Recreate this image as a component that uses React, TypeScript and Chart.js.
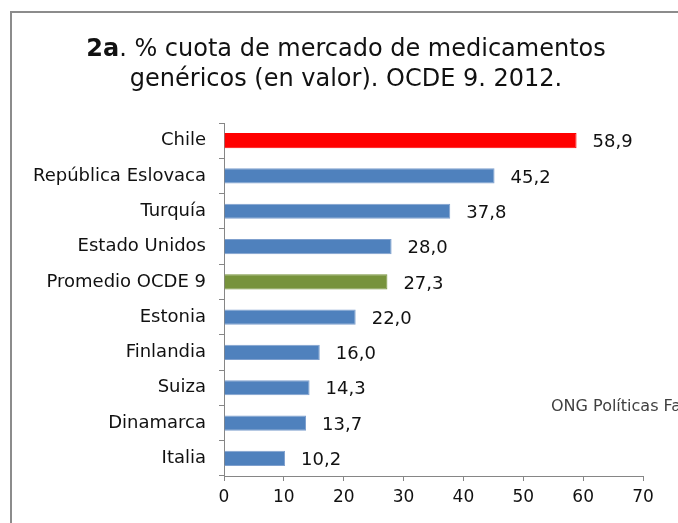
import React, { useEffect, useRef } from "react";
import { Chart, registerables } from "chart.js";

Chart.register(...registerables);

const categories = [
  "Chile",
  "República Eslovaca",
  "Turquía",
  "Estado Unidos",
  "Promedio OCDE 9",
  "Estonia",
  "Finlandia",
  "Suiza",
  "Dinamarca",
  "Italia",
];
const values = [58.9, 45.2, 37.8, 28.0, 27.3, 22.0, 16.0, 14.3, 13.7, 10.2];
const barColors = [
  "#FF0000",
  "#4F81BD",
  "#4F81BD",
  "#4F81BD",
  "#77933C",
  "#4F81BD",
  "#4F81BD",
  "#4F81BD",
  "#4F81BD",
  "#4F81BD",
];
const borderColors = [
  "#FF0000",
  "#7FA0CE",
  "#7FA0CE",
  "#7FA0CE",
  "#77933C",
  "#7FA0CE",
  "#7FA0CE",
  "#7FA0CE",
  "#7FA0CE",
  "#7FA0CE",
];
const titleBold = "2a";
const titleRest1 = ". % cuota de mercado de medicamentos";
const titleLine2 = "genéricos (en valor). OCDE 9. 2012.";
const sourceNote = "ONG Políticas Fa";
const xMin = 0;
const xMax = 70;
const xStep = 10;

const FONT = "'DejaVu Sans', sans-serif";
const AXIS_GRAY = "#868686";

const framePlugin = {
  id: "frame",
  beforeDraw(chart: any) {
    const ctx = chart.ctx;
    ctx.save();
    ctx.fillStyle = "#ffffff";
    ctx.fillRect(0, 0, chart.width, chart.height);
    ctx.strokeStyle = "#8c8c8c";
    ctx.lineWidth = 2;
    ctx.beginPath();
    ctx.moveTo(11, chart.height + 5);
    ctx.lineTo(11, 12);
    ctx.lineTo(chart.width + 5, 12);
    ctx.stroke();
    ctx.restore();
  },
};

const titlePlugin = {
  id: "customTitle",
  afterDraw(chart: any) {
    const ctx = chart.ctx;
    const cx = 346;
    ctx.save();
    ctx.fillStyle = "#111111";
    ctx.textBaseline = "alphabetic";
    const boldFont = `bold 24px ${FONT}`;
    const normFont = `24px ${FONT}`;
    ctx.font = boldFont;
    const wb = ctx.measureText(titleBold).width;
    ctx.font = normFont;
    const wr = ctx.measureText(titleRest1).width;
    const x = cx - (wb + wr) / 2;
    ctx.textAlign = "left";
    ctx.font = boldFont;
    ctx.fillText(titleBold, x, 56);
    ctx.font = normFont;
    ctx.fillText(titleRest1, x + wb, 56);
    ctx.textAlign = "center";
    ctx.fillText(titleLine2, cx, 86);
    // source note
    ctx.font = `16px ${FONT}`;
    ctx.fillStyle = "#404040";
    ctx.textAlign = "left";
    ctx.textBaseline = "middle";
    ctx.fillText(sourceNote, 551, 407);
    ctx.restore();
  },
};

const labelPlugin = {
  id: "valueLabels",
  afterDatasetsDraw(chart: any) {
    const ctx = chart.ctx;
    const meta = chart.getDatasetMeta(0);
    ctx.save();
    ctx.font = `18px ${FONT}`;
    ctx.fillStyle = "#111111";
    ctx.textAlign = "left";
    ctx.textBaseline = "middle";
    meta.data.forEach((bar: any, i: number) => {
      const v = values[i];
      const txt = v.toFixed(1).replace(".", ",");
      ctx.fillText(txt, bar.x + 16, bar.y + 2);
    });
    ctx.restore();
  },
};

export default function App() {
  const ref = useRef<HTMLCanvasElement | null>(null);
  useEffect(() => {
    if (!ref.current) return;
    const chart = new Chart(ref.current, {
      type: "bar",
      data: {
        labels: categories,
        datasets: [
          {
            data: values,
            backgroundColor: barColors,
            borderColor: borderColors,
            borderWidth: 1,
            categoryPercentage: 1,
            barPercentage: 0.43,
          },
        ],
      },
      options: {
        indexAxis: "y",
        animation: false,
        responsive: false,
        devicePixelRatio: 1,
        layout: { padding: { top: 123, right: 35, left: 0, bottom: 0 } },
        plugins: {
          legend: { display: false },
          title: { display: false },
          tooltip: { enabled: false },
        },
        scales: {
          x: {
            min: xMin,
            max: xMax,
            ticks: {
              stepSize: xStep,
              color: "#111111",
              font: { family: FONT, size: 17 },
              padding: 6,
            },
            grid: {
              drawOnChartArea: false,
              drawTicks: true,
              tickLength: 5,
              color: AXIS_GRAY,
            },
            border: { color: AXIS_GRAY, width: 1 },
            afterFit(scale: any) {
              scale.height = 47;
            },
          },
          y: {
            ticks: {
              color: "#111111",
              font: { family: FONT, size: 18 },
              padding: 13,
            },
            grid: {
              offset: true,
              drawOnChartArea: false,
              drawTicks: true,
              tickLength: 5,
              color: AXIS_GRAY,
            },
            border: { color: AXIS_GRAY, width: 1 },
            afterFit(scale: any) {
              scale.width = 224;
            },
          },
        },
      },
      plugins: [framePlugin, titlePlugin, labelPlugin],
    } as any);
    return () => chart.destroy();
  }, []);
  return (
    <div style={{ position: "absolute", left: 0, top: 0, width: 678, height: 523 }}>
      <canvas ref={ref} width={678} height={523} style={{ display: "block" }} />
    </div>
  );
}
